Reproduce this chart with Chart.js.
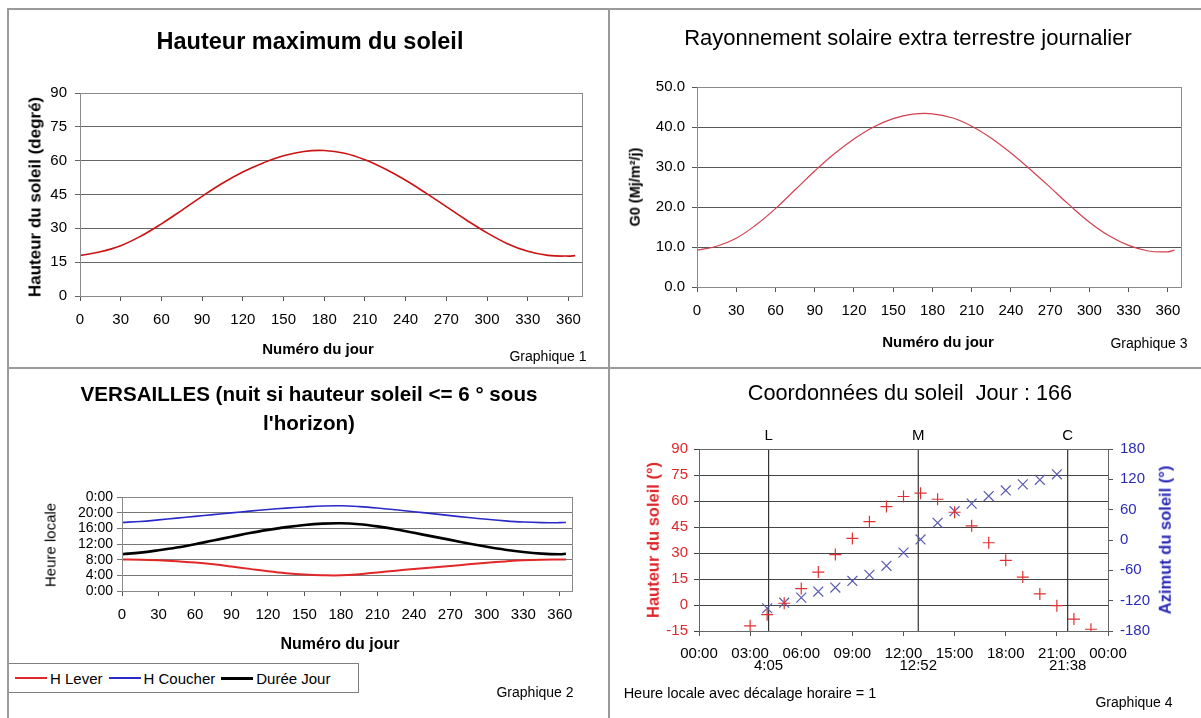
<!DOCTYPE html>
<html>
<head>
<meta charset="utf-8">
<script src="https://cdn.jsdelivr.net/npm/chart.js@4.4.0/dist/chart.umd.min.js"></script>
<style>
  body { margin: 0; width: 1201px; height: 718px; background: #fff; position: relative; overflow: hidden;
         font-family: "Liberation Sans", Arial, sans-serif; color: #000; }
  canvas { position: absolute; }
  .t { position: absolute; white-space: nowrap; transform: translate(-50%, -50%); line-height: 1; }
  .rule { position: absolute; background: #9a9a9a; z-index: 5; }
  #legende2 { position: absolute; left: 8px; top: 663px; width: 349px; height: 28px; border: 1px solid #808080;
              display: flex; align-items: center; font-size: 15px; background: #fff; }
  #legende2 span.l { display: inline-block; width: 32px; margin-left: 6px; margin-right: 3px; }
</style>
</head>
<body>
<div class="rule" style="left:7px;top:8px;width:1194px;height:2px"></div>
<div class="rule" style="left:7px;top:8px;width:2px;height:710px"></div>
<div class="rule" style="left:608px;top:8px;width:2px;height:710px"></div>
<div class="rule" style="left:7px;top:367px;width:1194px;height:2px"></div>

<canvas id="c1" width="608" height="367" style="left:0;top:0"></canvas>
<canvas id="c3" width="592" height="367" style="left:609px;top:0"></canvas>
<canvas id="c2" width="608" height="349" style="left:0;top:369px"></canvas>
<canvas id="c4" width="592" height="349" style="left:609px;top:369px"></canvas>
<div id="legende2"></div>

<script>
// jours de l'année (abscisse des graphiques 1, 2, 3)
const jours = [0, 15, 30, 45, 60, 75, 90, 105, 120, 135, 150, 165, 180, 195, 210, 225, 240, 255, 270, 285, 300, 315, 330, 345, 360, 365];

// Graphique 1 : hauteur maximum du soleil (degrés)
const hauteurMax = [18.0, 19.6, 22.3, 26.6, 32.0, 38.0, 44.2, 50.0, 55.0, 59.0, 62.2, 64.1, 64.5, 63.3, 60.4, 56.3, 51.3, 45.6, 39.6, 33.6, 28.0, 23.2, 19.8, 18.0, 17.7, 17.9];

// Graphique 3 : rayonnement extra terrestre G0 (Mj/m²/j)
const rayonnementG0 = [9.2, 10.2, 12.2, 15.5, 19.6, 24.3, 29.0, 33.3, 37.0, 40.0, 42.1, 43.2, 43.3, 42.3, 40.2, 37.2, 33.5, 29.3, 24.9, 20.4, 16.2, 12.8, 10.4, 9.0, 8.8, 9.2];

// Graphique 2 : heures (décimales)
const heureLever = [8.05, 8.0, 7.85, 7.6, 7.25, 6.8, 6.25, 5.65, 5.05, 4.55, 4.2, 4.02, 4.0, 4.3, 4.75, 5.2, 5.6, 6.0, 6.4, 6.8, 7.2, 7.55, 7.85, 8.0, 8.05, 8.05];
const heureCoucher = [17.5, 17.75, 18.15, 18.6, 19.05, 19.5, 19.95, 20.4, 20.8, 21.15, 21.45, 21.7, 21.75, 21.55, 21.2, 20.75, 20.25, 19.75, 19.25, 18.75, 18.3, 17.9, 17.6, 17.45, 17.45, 17.5];
const dureeJour = [9.4, 9.8, 10.4, 11.1, 11.95, 12.9, 13.85, 14.8, 15.6, 16.3, 16.85, 17.2, 17.3, 17.05, 16.5, 15.75, 14.85, 13.95, 13.05, 12.15, 11.3, 10.55, 9.95, 9.55, 9.4, 9.5];
const series2 = ['H Lever', 'H Coucher', 'Durée Jour'];
const couleurs2 = ['#e02828', '#2a2ac8', '#000000'];

// Graphique 4 : coordonnées du soleil, jour 166
const heuresHauteur = [3, 4, 5, 6, 7, 8, 9, 10, 11, 12, 13, 14, 15, 16, 17, 18, 19, 20, 21, 22, 23];
const hauteurSoleil = [-12.0, -5.6, 1.0, 9.5, 19.0, 29.1, 38.4, 48.1, 56.8, 62.6, 64.5, 61.0, 53.5, 45.7, 35.9, 25.8, 16.1, 6.4, -0.4, -8.1, -14.0];
const heuresAzimut = [4, 5, 6, 7, 8, 9, 10, 11, 12, 13, 14, 15, 16, 17, 18, 19, 20, 21];
const azimutSoleil = [-135, -124, -114, -102, -94, -81, -69, -51, -25, 1, 34, 57, 72, 87, 98, 110, 119, 130];
const evenements = ['L', 'M', 'C'];
const heuresEvenements = ['4:05', '12:52', '21:38'];

Chart.defaults.font.family = "'Liberation Sans', Arial, sans-serif";
Chart.defaults.color = '#000';

const pts = (xs, ys) => xs.map((x, i) => ({ x: x, y: ys[i] }));
const fixW = w => s => { s.width = w; };
const fixH = h => s => { s.height = h; };
const hDec = s => { const p = s.split(':'); return +p[0] + p[1] / 60; };

// cadre autour de la zone de tracé
const plotFrame = {
  id: 'plotFrame',
  afterDraw(chart, args, opts) {
    const a = chart.chartArea, ctx = chart.ctx;
    ctx.save();
    ctx.strokeStyle = opts.color || '#888';
    ctx.lineWidth = 1;
    ctx.strokeRect(Math.round(a.left) + 0.5, Math.round(a.top) + 0.5, Math.round(a.right - a.left), Math.round(a.bottom - a.top));
    ctx.restore();
  }
};
Chart.register(plotFrame);

function txt(t, x, y, css, rot) {
  const d = document.createElement('div');
  d.className = 't';
  d.textContent = t;
  d.style.left = x + 'px';
  d.style.top = y + 'px';
  d.style.cssText += css || '';
  if (rot) d.style.transform = 'translate(-50%, -50%) rotate(-90deg)';
  document.body.appendChild(d);
}

const base = {
  responsive: false, animation: false, events: [],
  plugins: { legend: { display: false }, tooltip: { enabled: false } }
};
const dayAxis = (h, pad) => ({
  type: 'linear', min: 0, max: 370, afterFit: fixH(h),
  ticks: { stepSize: 30, includeBounds: false, autoSkip: false, maxRotation: 0, padding: pad, font: { size: 15 } },
  grid: { drawOnChartArea: false, tickLength: 5, color: '#555' },
  border: { color: '#555' }
});

// Graphique 1
new Chart(document.getElementById('c1'), {
  type: 'scatter',
  data: { datasets: [{ data: pts(jours, hauteurMax), showLine: true, borderColor: '#cc1212', borderWidth: 1.6,
                       pointRadius: 0, tension: 0.4 }] },
  options: Object.assign({}, base, {
    layout: { padding: { left: 0, right: 26, top: 93, bottom: 31 } },
    plugins: Object.assign({}, base.plugins, { plotFrame: { color: '#8a8a8a' } }),
    scales: {
      x: dayAxis(40, 10),
      y: { min: 0, max: 90, afterFit: fixW(80),
           ticks: { stepSize: 15, padding: 8, font: { size: 15 } },
           grid: { color: '#666', tickLength: 5 }, border: { color: '#555' } }
    }
  })
});

// Graphique 3
new Chart(document.getElementById('c3'), {
  type: 'scatter',
  data: { datasets: [{ data: pts(jours, rayonnementG0), showLine: true, borderColor: '#d2404e', borderWidth: 1.2,
                       pointRadius: 0, tension: 0.4 }] },
  options: Object.assign({}, base, {
    layout: { padding: { left: 0, right: 20, top: 87, bottom: 40 } },
    plugins: Object.assign({}, base.plugins, { plotFrame: { color: '#8a8a8a' } }),
    scales: {
      x: dayAxis(40, 10),
      y: { min: 0, max: 50, afterFit: fixW(88),
           ticks: { stepSize: 10, padding: 7, font: { size: 15 }, callback: v => v.toFixed(1) },
           grid: { color: '#555', tickLength: 5 }, border: { color: '#555' } }
    }
  })
});

// Graphique 2
new Chart(document.getElementById('c2'), {
  type: 'scatter',
  data: { datasets: [
    { label: series2[0], data: pts(jours, heureLever), borderColor: couleurs2[0], borderWidth: 2 },
    { label: series2[1], data: pts(jours, heureCoucher), borderColor: couleurs2[1], borderWidth: 1.6 },
    { label: series2[2], data: pts(jours, dureeJour), borderColor: couleurs2[2], borderWidth: 2.6 }
  ].map(d => Object.assign(d, { showLine: true, pointRadius: 0, tension: 0.4 })) },
  options: Object.assign({}, base, {
    layout: { padding: { left: 0, right: 36, top: 128, bottom: 87 } },
    plugins: Object.assign({}, base.plugins, { plotFrame: { color: '#8a8a8a' } }),
    scales: {
      x: dayAxis(40, 10),
      y: { min: 0, max: 24, afterFit: fixW(122),
           ticks: { stepSize: 4, autoSkip: false, padding: 4, font: { size: 14 }, callback: v => (v % 24) + ':00' },
           grid: { color: '#777', tickLength: 5 }, border: { color: '#555' } }
    }
  })
});

const leg = document.getElementById('legende2');
series2.forEach((s, i) => {
  const l = document.createElement('span');
  l.className = 'l';
  l.style.borderTop = (i === 2 ? 3 : 2) + 'px solid ' + couleurs2[i];
  const t = document.createElement('span');
  t.textContent = s;
  leg.appendChild(l);
  leg.appendChild(t);
});

// Graphique 4 : marqueurs L / M / C
const marques = {
  id: 'marques',
  afterDraw(chart) {
    const ctx = chart.ctx, xs = chart.scales.x, a = chart.chartArea;
    ctx.save();
    ctx.fillStyle = '#000';
    ctx.textAlign = 'center';
    ctx.textBaseline = 'middle';
    ctx.font = "15px 'Liberation Sans', Arial, sans-serif";
    evenements.forEach((e, i) => {
      const x = xs.getPixelForValue(hDec(heuresEvenements[i]));
      ctx.fillText(e, x, a.top - 13);
      ctx.fillText(heuresEvenements[i], x, a.bottom + 35);
    });
    ctx.restore();
  }
};

new Chart(document.getElementById('c4'), {
  type: 'scatter',
  data: { datasets: [
    { data: pts(heuresHauteur, hauteurSoleil), yAxisID: 'y', pointStyle: 'cross', pointRadius: 6,
      borderColor: '#e03030', borderWidth: 1.2, backgroundColor: '#e03030' },
    { data: pts(heuresAzimut, azimutSoleil), yAxisID: 'y2', pointStyle: 'crossRot', pointRadius: 7,
      borderColor: '#5a5ab0', borderWidth: 1.2, backgroundColor: '#5a5ab0' }
  ].concat(heuresEvenements.map(h => ({
      data: [{ x: hDec(h), y: -15 }, { x: hDec(h), y: 90 }], yAxisID: 'y', showLine: true,
      pointRadius: 0, borderColor: '#333', borderWidth: 1.2
  }))) },
  options: Object.assign({}, base, {
    layout: { padding: { left: 0, right: 33, top: 80, bottom: 47 } },
    plugins: Object.assign({}, base.plugins, { plotFrame: { color: '#666' } }),
    scales: {
      x: { type: 'linear', min: 0, max: 24, afterFit: fixH(40),
           ticks: { stepSize: 3, autoSkip: false, maxRotation: 0, padding: 9, font: { size: 15 },
                    callback: v => String(v % 24).padStart(2, '0') + ':00' },
           grid: { drawOnChartArea: false, tickLength: 5, color: '#555' }, border: { color: '#555' } },
      y: { position: 'left', min: -15, max: 90, afterFit: fixW(90),
           ticks: { stepSize: 15, padding: 6, color: '#e0282c', font: { size: 15 } },
           grid: { color: '#444', tickLength: 5 }, border: { color: '#555' } },
      y2: { position: 'right', min: -180, max: 180, afterFit: fixW(60),
            ticks: { stepSize: 60, padding: 7, color: '#2a2ab8', font: { size: 15 } },
            grid: { drawOnChartArea: false, tickLength: 5, color: '#555' }, border: { color: '#555' } }
    }
  }),
  plugins: [marques]
});

// textes
txt('Hauteur maximum du soleil', 310, 42, 'font-size:23.5px;font-weight:bold;');
txt('Hauteur du soleil (degré)', 35, 197, 'font-size:17px;font-weight:bold;', true);
txt('Numéro du jour', 318, 348, 'font-size:15px;font-weight:bold;');
txt('Graphique 1', 548, 356, 'font-size:14px;');

txt('Rayonnement solaire extra terrestre journalier', 908, 38, 'font-size:22px;');
txt('G0 (Mj/m²/j)', 635, 187, 'font-size:14.5px;font-weight:bold;', true);
txt('Numéro du jour', 938, 341, 'font-size:15px;font-weight:bold;');
txt('Graphique 3', 1149, 343, 'font-size:14px;');

txt('VERSAILLES (nuit si hauteur soleil <= 6 ° sous', 309, 394, 'font-size:20.6px;font-weight:bold;');
txt("l'horizon)", 309, 423, 'font-size:20.6px;font-weight:bold;');
txt('Heure locale', 50, 545, 'font-size:15px;', true);
txt('Numéro du jour', 340, 644, 'font-size:16px;font-weight:bold;');
txt('Graphique 2', 535, 692, 'font-size:14px;');

txt('Coordonnées du soleil  Jour : 166', 910, 393, 'font-size:21.7px;white-space:pre;');
txt('Hauteur du soleil (°)', 653, 540, 'font-size:16.5px;font-weight:bold;color:#e0282c;', true);
txt('Azimut du soleil (°)', 1165, 540, 'font-size:16.5px;font-weight:bold;color:#2a2ab8;', true);
txt('Heure locale avec décalage horaire = 1', 750, 693, 'font-size:14.5px;');
txt('Graphique 4', 1134, 702, 'font-size:14px;');
</script>
</body>
</html>
